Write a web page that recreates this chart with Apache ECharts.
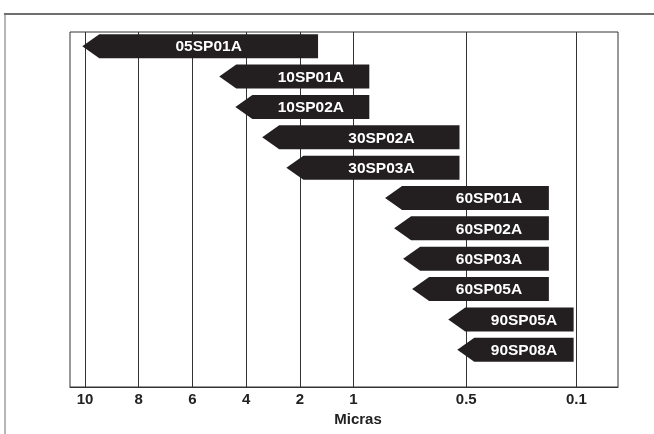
<!DOCTYPE html>
<html>
<head>
<meta charset="utf-8">
<script src="https://cdn.jsdelivr.net/npm/echarts@6/dist/echarts.min.js"></script>
<style>
html, body { margin: 0; padding: 0; background: #fff; }
#chart { width: 654px; height: 434px; }
</style>
</head>
<body>
<div id="chart"></div>
<script>
// axis ticks: label, micron value, slot on the (non-linear) axis
var tickLabels = ['10', '8', '6', '4', '2', '1', '0.5', '0.1'];
var tickMicras = [10, 8, 6, 4, 2, 1, 0.5, 0.1];
var tickSlots = [0, 1, 2, 3, 4, 5, 7.1, 9.15];

// filters: range covered, from coarse (arrow tip) to fine (right end)
var models = ['05SP01A', '10SP01A', '10SP02A', '30SP02A', '30SP03A', '60SP01A', '60SP02A', '60SP03A', '60SP05A', '90SP05A', '90SP08A'];
var fromMicras = [10.1, 5.0, 4.4, 3.4, 2.5, 0.86, 0.82, 0.78, 0.74, 0.58, 0.54];
var toMicras = [1.66, 0.93, 0.93, 0.53, 0.53, 0.2, 0.2, 0.2, 0.2, 0.11, 0.11];

// micron value -> axis slot, piecewise linear between ticks
function toSlot(m) {
    var n = tickMicras.length
    var i = 0
    while (i < n - 2 && m < tickMicras[i + 1]) i++
    var a = tickMicras[i], b = tickMicras[i + 1]
    return tickSlots[i] + (a - m) / (a - b) * (tickSlots[i + 1] - tickSlots[i])
}

// label sits in the middle of the shortest arrow that ends at the same place
var labelFrom = models.map(function (name, i) {
    var m = fromMicras[i]
    toMicras.forEach(function (t, j) {
        if (t === toMicras[i] && fromMicras[j] < m) m = fromMicras[j]
    })
    return toSlot(m)
})

var arrowData = models.map(function (name, i) {
    return [toSlot(fromMicras[i]), toSlot(toMicras[i]), i, labelFrom[i]]
})

var xMin = -0.279, xMax = 9.925

var chart = echarts.init(document.getElementById('chart'))
var option = {
    animation: false,
    grid: [
        { left: 70, right: 36, top: 32, bottom: 47, show: true, borderColor: '#333', borderWidth: 1 },
        { left: 70, right: 36, top: 31, bottom: 69 }
    ],
    xAxis: [{
        type: 'value', gridIndex: 0, min: xMin, max: xMax,
        splitLine: { show: false },
        axisLine: { show: true, lineStyle: { color: '#333', width: 1 } },
        axisTick: {
            show: true, customValues: tickSlots, inside: true, length: 355,
            lineStyle: { color: '#333', width: 1 }
        },
        axisLabel: {
            customValues: tickSlots, margin: 5,
            color: '#222', fontSize: 15, fontWeight: 'bold', fontFamily: 'Arial, Liberation Sans',
            formatter: function (v) {
                var best = 0
                tickSlots.forEach(function (s, k) {
                    if (Math.abs(s - v) < Math.abs(tickSlots[best] - v)) best = k
                })
                return tickLabels[best]
            }
        }
    }, {
        type: 'value', gridIndex: 1, min: xMin, max: xMax, show: false
    }],
    yAxis: [{
        type: 'value', gridIndex: 0, show: false, min: 0, max: 1
    }, {
        type: 'category', gridIndex: 1, data: models, inverse: true, show: false
    }],
    graphic: [
        { type: 'line', shape: { x1: 4, y1: 14, x2: 654, y2: 14 }, style: { stroke: '#6e6e6e', lineWidth: 2 } },
        { type: 'line', shape: { x1: 5, y1: 14, x2: 5, y2: 434 }, style: { stroke: '#6e6e6e', lineWidth: 1 } },
        {
            type: 'text', x: 358, y: 420,
            style: {
                text: 'Micras', fill: '#222', font: 'bold 15px Arial, Liberation Sans',
                align: 'center', verticalAlign: 'middle'
            }
        }
    ],
    series: [{
        type: 'custom',
        xAxisIndex: 1, yAxisIndex: 1,
        data: arrowData,
        renderItem: function (params, api) {
            var p0 = api.coord([api.value(0), api.value(2)])
            var p1 = api.coord([api.value(1), api.value(2)])
            var pl = api.coord([api.value(3), api.value(2)])
            var h = 24, head = 17
            var x0 = p0[0], x1 = p1[0], yc = p0[1]
            var top = yc - h / 2, bot = yc + h / 2
            return {
                type: 'group',
                children: [{
                    type: 'polygon',
                    shape: { points: [[x0, yc], [x0 + head, top], [x1, top], [x1, bot], [x0 + head, bot]] },
                    style: { fill: '#231f20' }
                }, {
                    type: 'text',
                    style: {
                        text: models[params.dataIndex],
                        x: (pl[0] + head + x1) / 2, y: yc + 1,
                        fill: '#fff', font: 'bold 15.5px Arial, Liberation Sans',
                        align: 'center', verticalAlign: 'middle'
                    }
                }]
            }
        }
    }]
}
chart.setOption(option)
</script>
</body>
</html>
